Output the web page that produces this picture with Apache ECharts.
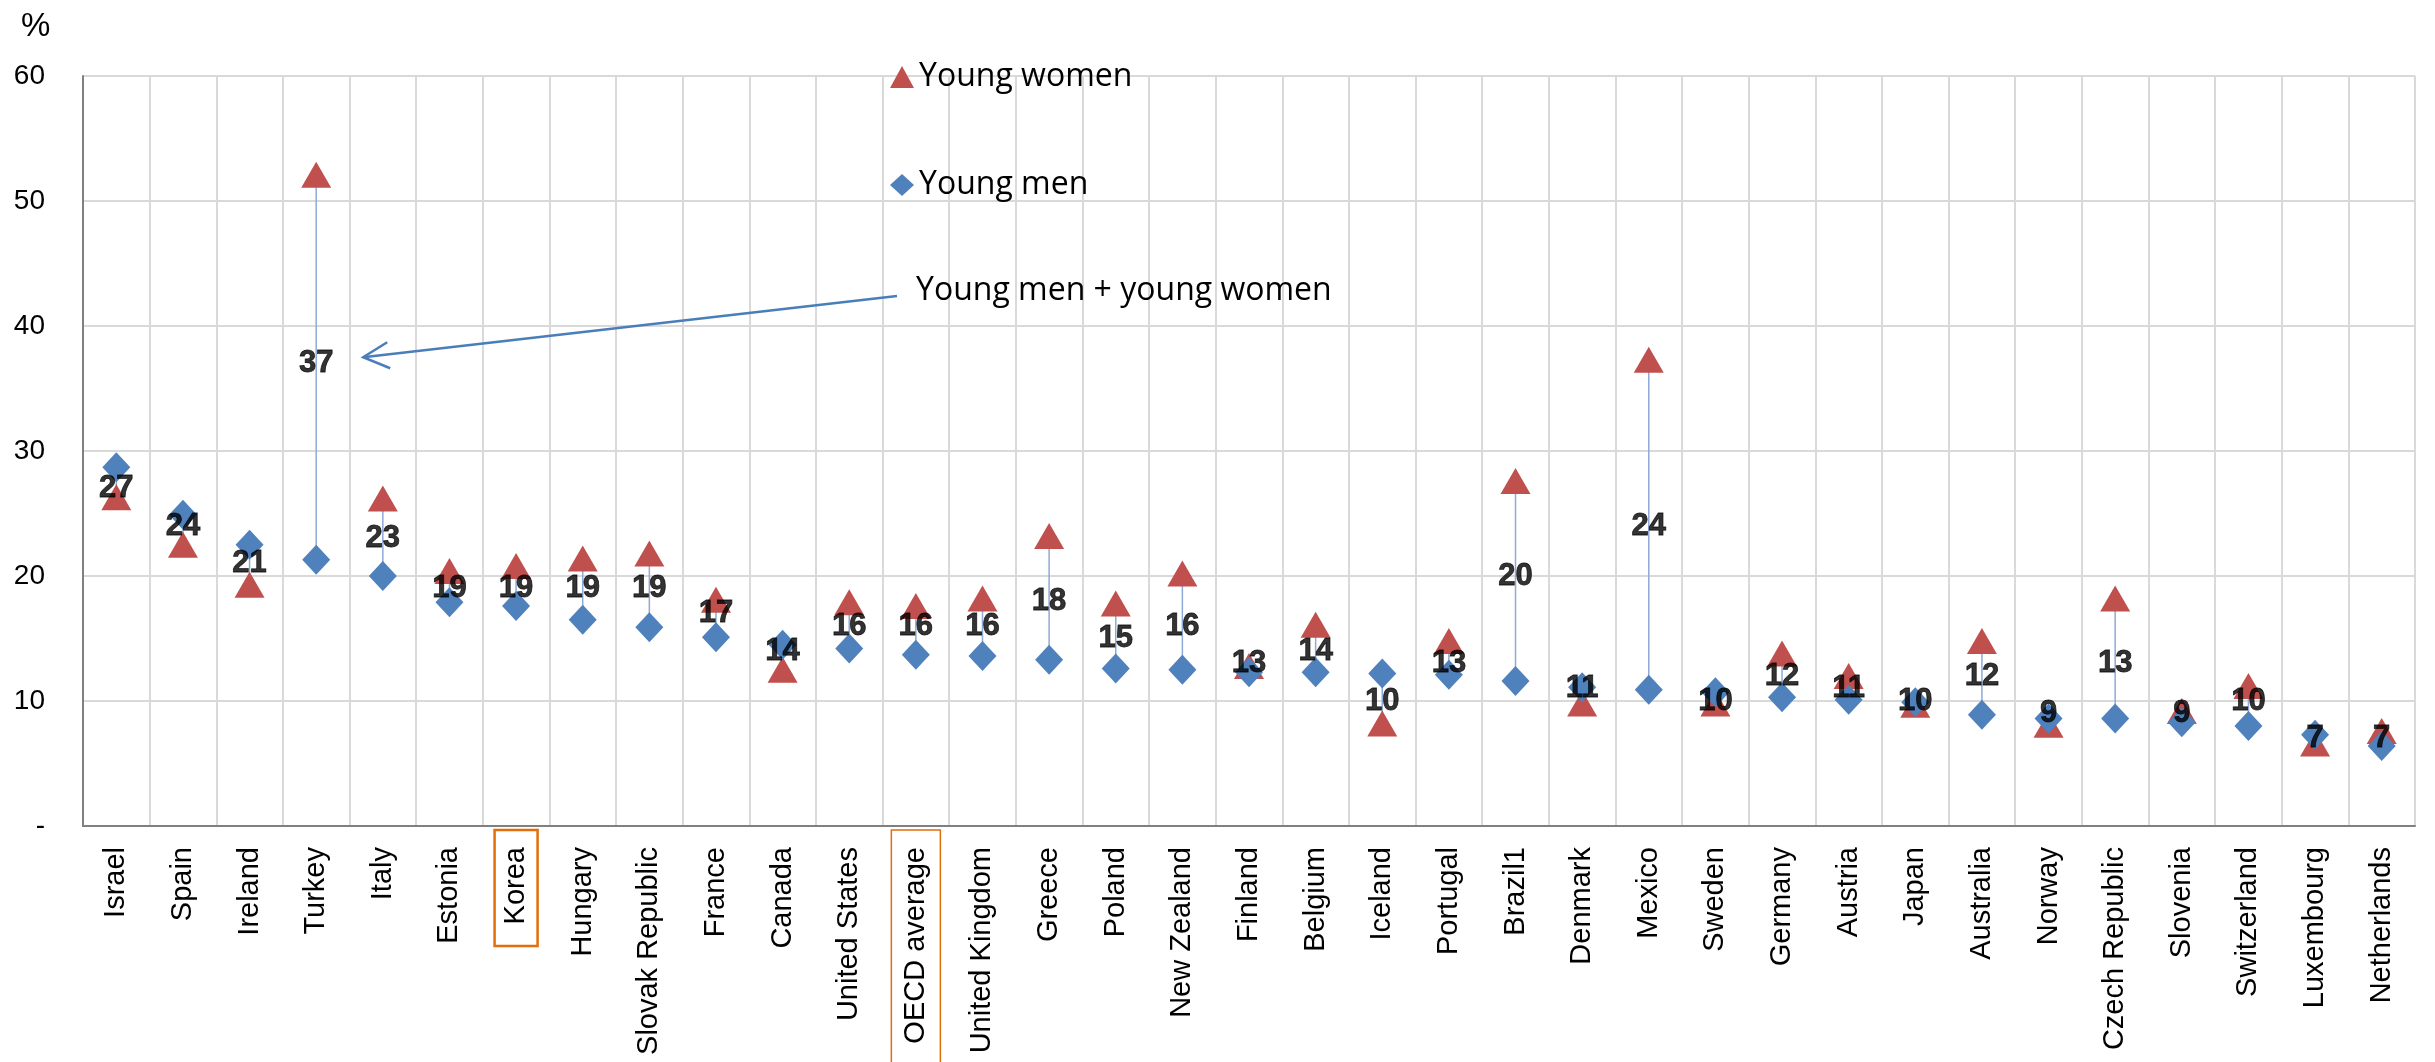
<!DOCTYPE html>
<html>
<head>
<meta charset="utf-8">
<title>NEET rates among young men and young women</title>
<script src="https://cdn.jsdelivr.net/npm/echarts@6/dist/echarts.min.js"></script>
<style>
  html, body { margin: 0; padding: 0; background: #ffffff; }
  #chart { width: 2435px; height: 1062px; }
</style>
</head>
<body>
<div id="chart"></div>
<script>
// Countries, in the order shown on the horizontal axis
const countries = [
  'Israel', 'Spain', 'Ireland', 'Turkey', 'Italy', 'Estonia', 'Korea', 'Hungary',
  'Slovak Republic', 'France', 'Canada', 'United States', 'OECD average',
  'United Kingdom', 'Greece', 'Poland', 'New Zealand', 'Finland', 'Belgium',
  'Iceland', 'Portugal', 'Brazil1', 'Denmark', 'Mexico', 'Sweden', 'Germany',
  'Austria', 'Japan', 'Australia', 'Norway', 'Czech Republic', 'Slovenia',
  'Switzerland', 'Luxembourg', 'Netherlands'
];

// Young men (%)
const youngMen = [
  28.7, 24.9, 22.5, 21.3, 20.0, 17.9, 17.6, 16.5, 15.9, 15.1, 14.5, 14.2,
  13.7, 13.6, 13.3, 12.6, 12.5, 12.3, 12.3, 12.2, 12.1, 11.6, 11.1, 10.9,
  10.7, 10.3, 10.1, 9.9, 8.9, 8.6, 8.6, 8.3, 8.0, 7.3, 6.4
];

// Young women (%)
const youngWomen = [
  26.3, 22.5, 19.3, 52.1, 26.2, 20.4, 20.8, 21.4, 21.8, 18.1, 12.5, 17.9,
  17.6, 18.2, 23.2, 17.8, 20.2, 12.8, 16.1, 8.2, 14.8, 27.6, 9.8, 37.3,
  9.8, 13.8, 12.0, 9.7, 14.8, 8.1, 18.2, 9.2, 11.2, 6.6, 7.6
];

// Young men + young women (%)
const bothSexes = [
  27, 24, 21, 37, 23, 19, 19, 19, 19, 17, 14, 16, 16, 16, 18, 15, 16, 13, 14,
  10, 13, 20, 11, 24, 10, 12, 11, 10, 12, 9, 13, 9, 10, 7, 7
];

// Value axis ticks
const yTicks = { min: 0, max: 60, interval: 10 };

// Categories that get a highlight frame round their label
const highlighted = ['Korea', 'OECD average'];

const ARIAL = '"Liberation Sans", Arial, sans-serif';
const CALIBRI = '"Open Sans", "Noto Sans", sans-serif';
const BLUE = '#4f81bd';
const RED = '#c0504d';
const ORANGE = '#e46c0a';

const chart = echarts.init(document.getElementById('chart'), null, { renderer: 'canvas' });

const option = {
  animation: false,
  backgroundColor: '#ffffff',
  grid: { left: 83, right: 20, top: 76, bottom: 236, containLabel: false },
  legend: {
    orient: 'vertical',
    left: 885,
    top: 54,
    itemGap: 72,
    itemWidth: 24,
    itemHeight: 22,
    selectedMode: false,
    data: [
      { name: 'Young women', icon: 'triangle' },
      { name: 'Young men', icon: 'diamond' }
    ],
    textStyle: { fontFamily: CALIBRI, fontSize: 32, lineHeight: 36, color: '#000000' }
  },
  xAxis: {
    type: 'category',
    data: countries,
    boundaryGap: true,
    axisLine: { show: true, lineStyle: { color: '#808080', width: 2 } },
    axisTick: { show: false },
    splitLine: { show: true, interval: 0, lineStyle: { color: '#d9d9d9', width: 2 } },
    axisLabel: {
      interval: 0,
      rotate: 90,
      margin: 21,
      fontFamily: ARIAL,
      fontSize: 29,
      color: '#000000'
    }
  },
  yAxis: {
    type: 'value',
    min: yTicks.min,
    max: yTicks.max,
    interval: yTicks.interval,
    axisLine: { show: true, lineStyle: { color: '#808080', width: 2 } },
    axisTick: { show: false },
    splitLine: { show: true, lineStyle: { color: '#d9d9d9', width: 2 } },
    axisLabel: {
      margin: 38,
      fontFamily: ARIAL,
      fontSize: 28,
      color: '#000000',
      formatter: v => (v === 0 ? '-' : String(v))
    }
  },
  series: [
    {
      // thin stems joining the two markers of each country
      name: 'gap',
      type: 'custom',
      z: 1,
      silent: true,
      data: countries.map((c, i) => [i, youngMen[i], youngWomen[i]]),
      encode: { x: 0, y: [1, 2] },
      renderItem: (params, api) => {
        const a = api.coord([api.value(0), api.value(1)]);
        const b = api.coord([api.value(0), api.value(2)]);
        return {
          type: 'line',
          shape: { x1: a[0], y1: a[1], x2: b[0], y2: b[1] },
          style: { stroke: '#8eaad6', lineWidth: 1.5 }
        };
      }
    },
    {
      name: 'Young women',
      type: 'scatter',
      z: 2,
      symbol: 'triangle',
      symbolSize: [30, 26],
      itemStyle: { color: RED, opacity: 1 },
      data: youngWomen
    },
    {
      name: 'Young men',
      type: 'scatter',
      z: 3,
      symbol: 'diamond',
      symbolSize: [28, 30],
      itemStyle: { color: BLUE, opacity: 1 },
      data: youngMen
    },
    {
      name: 'Young men + young women',
      type: 'scatter',
      z: 4,
      symbol: 'circle',
      symbolSize: 1,
      itemStyle: { color: 'rgba(0,0,0,0)' },
      label: {
        show: true,
        position: 'inside',
        fontFamily: ARIAL,
        fontWeight: 'bold',
        fontSize: 31,
        color: '#000000',
        textBorderWidth: 0.8,
        textBorderColor: '#000000',
        formatter: p => String(p.value)
      },
      labelLayout: { hideOverlap: false },
      data: bothSexes.map((v, i) =>
        countries[i] === 'Finland' ? { value: v, label: { offset: [-18, 0] } } : v)
    }
  ]
};

chart.setOption(option);

// Annotation: unit sign, explanatory text with an arrow pointing at
// Turkey's total, plus orange frames round the highlighted category labels.
function drawAnnotations() {
  const iTurkey = countries.indexOf('Turkey');
  const tip = chart.convertToPixel({ gridIndex: 0 }, [iTurkey, bothSexes[iTurkey] + 0.5]);
  const tipX = tip[0] + 47;
  const tipY = tip[1];
  const startX = 897, startY = 296;

  const graphics = [
    {
      type: 'text',
      left: 21,
      top: 10,
      style: { text: '%', fontFamily: ARIAL, fontSize: 33, fill: '#000000' },
      z: 10
    },
    {
      type: 'text',
      left: 916,
      top: 275,
      style: {
        text: 'Young men + young women',
        fontFamily: CALIBRI,
        fontSize: 32,
        fill: '#000000'
      },
      z: 10
    },
    {
      type: 'line',
      shape: { x1: startX, y1: startY, x2: tipX, y2: tipY },
      style: { stroke: '#4a7ebb', lineWidth: 2.5 },
      z: 10
    },
    {
      type: 'polyline',
      shape: { points: [[tipX + 24, tipY - 15], [tipX, tipY], [tipX + 27, tipY + 11]] },
      style: { stroke: '#4a7ebb', lineWidth: 2.5, fill: null },
      z: 10
    }
  ];

  const bottomY = chart.convertToPixel({ yAxisIndex: 0 }, 0);
  highlighted.forEach((name, k) => {
    const cx = chart.convertToPixel({ xAxisIndex: 0 }, name);
    const w = k === 0 ? 43 : 49;
    const h = k === 0 ? 116 : 240;
    graphics.push({
      type: 'rect',
      shape: { x: cx - w / 2, y: bottomY + 4, width: w, height: h },
      style: { stroke: ORANGE, lineWidth: k === 0 ? 2.5 : 1.5, fill: null },
      z: 10
    });
  });

  chart.setOption({ graphic: graphics });
}

drawAnnotations();
</script>
</body>
</html>
